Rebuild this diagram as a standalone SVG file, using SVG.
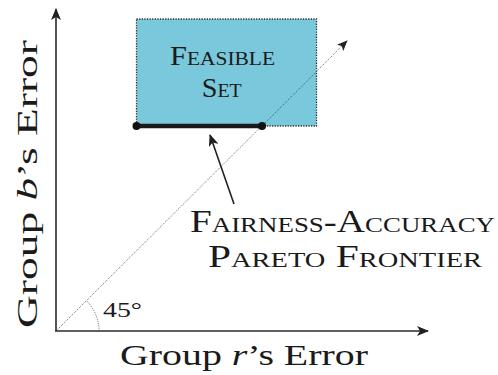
<svg xmlns="http://www.w3.org/2000/svg" width="498" height="375" viewBox="0 0 498 375">
<style>
text{font-family:"Liberation Serif","Times New Roman",serif;fill:#1a1a1a}
.sc{font-variant:small-caps}
.axis{stroke:#2a2a2a;stroke-width:1.6;fill:none}
.thin{stroke:#333;stroke-width:0.8;fill:none;stroke-dasharray:1 1.3}
</style>
<defs>
<marker id="ah" viewBox="0 0 12 10" refX="11" refY="5" markerWidth="12" markerHeight="10" markerUnits="userSpaceOnUse" orient="auto">
<path d="M0,0 L12,5 L0,10 L3,5 Z" fill="#222"/>
</marker>
<marker id="ahs" viewBox="0 0 12 10" refX="11" refY="5" markerWidth="11" markerHeight="9" markerUnits="userSpaceOnUse" orient="auto">
<path d="M0,0 L12,5 L0,10 L3,5 Z" fill="#222"/>
</marker>
</defs>
<g id="connectors">
<line class="axis" x1="56" y1="331" x2="56" y2="9" marker-end="url(#ah)"/>
<line class="axis" x1="55" y1="331" x2="428" y2="331" marker-end="url(#ah)"/>
<line class="thin" x1="56" y1="331" x2="347" y2="41" marker-end="url(#ahs)"/>
<path class="thin" d="M99,331 A43,43 0 0 0 86.4,300.6"/>
<line x1="234" y1="204" x2="210" y2="135" stroke="#222" stroke-width="1.6" marker-end="url(#ah)"/>
</g>
<g id="feasible">
<rect x="136.5" y="19" width="180" height="107" fill="#7AC8DB" stroke="#333" stroke-width="1.3" stroke-dasharray="1.3 1.3"/>
<line class="thin" x1="262" y1="126" x2="316.7" y2="71.5"/>
<text class="sc" x="222.5" y="65" font-size="27" text-anchor="middle" textLength="105" lengthAdjust="spacingAndGlyphs">Feasible</text>
<text class="sc" x="221.7" y="96.7" font-size="27" text-anchor="middle" textLength="40" lengthAdjust="spacingAndGlyphs">Set</text>
</g>
<g id="frontier">
<line x1="136.5" y1="126" x2="262" y2="126" stroke="#1a1a1a" stroke-width="4.5"/>
<circle cx="136.5" cy="126" r="4" fill="#111"/>
<circle cx="262" cy="126" r="4" fill="#111"/>
</g>
<g id="frontier-label">
<text class="sc" x="342.5" y="231.7" font-size="32" text-anchor="middle" textLength="305" lengthAdjust="spacingAndGlyphs">Fairness-Accuracy</text>
<text class="sc" x="345" y="266.7" font-size="32" text-anchor="middle" textLength="274" lengthAdjust="spacingAndGlyphs">Pareto Frontier</text>
</g>
<g id="angle">
<text x="103" y="316.7" font-size="20" textLength="39" lengthAdjust="spacingAndGlyphs">45°</text>
</g>
<g id="x-label">
<text x="244" y="365" font-size="30" text-anchor="middle" textLength="248" lengthAdjust="spacingAndGlyphs">Group <tspan font-style="italic">r</tspan>’s Error</text>
</g>
<g id="y-label">
<text transform="translate(37,184) rotate(-90)" x="0" y="0" font-size="30" text-anchor="middle" textLength="288" lengthAdjust="spacingAndGlyphs">Group <tspan font-style="italic">b</tspan>’s Error</text>
</g>
</svg>
